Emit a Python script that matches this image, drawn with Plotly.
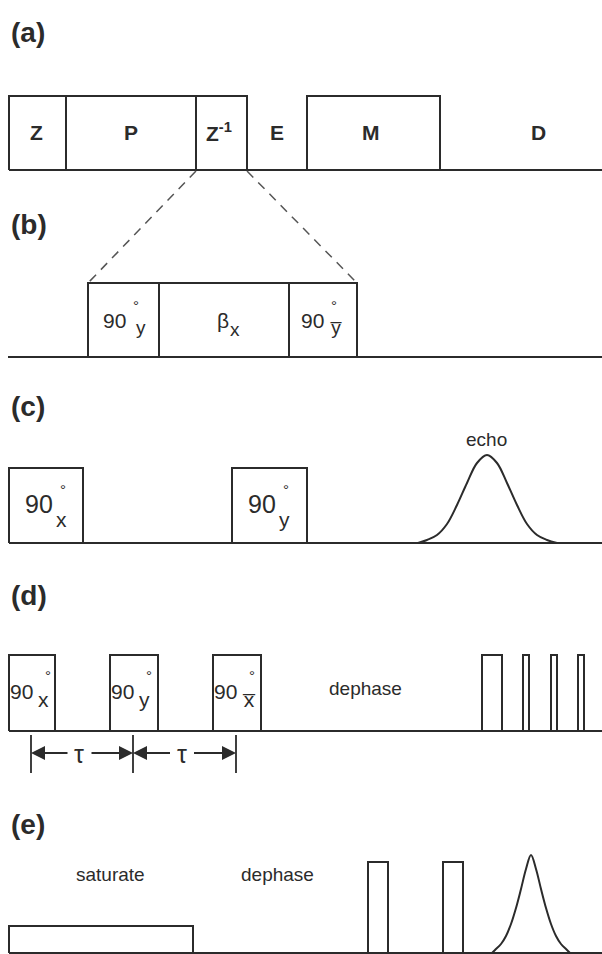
import plotly.graph_objects as go

W, H = 602, 954
INK = "#2b2b2b"
FONT = "Liberation Sans, Arial, Helvetica, sans-serif"

# ---------------- data (diagram geometry) ----------------
panel_labels = ["(a)", "(b)", "(c)", "(d)", "(e)"]
panel_label_y = [32, 224, 406, 595, 824]

# (a) blocks
a_base, a_top = 170, 96
a_block_edges = [9, 66, 196, 247]          # Z | P | Z^-1 contiguous
a_block_names = ["Z", "P", "Z<sup>-1</sup>"]
a_block_text_x = [36, 131, 219]
a_M_block = [307, 440]
a_free_names = ["E", "M", "D"]
a_free_x = [277, 371, 538]
a_text_y = 132

# (b) expansion of Z^-1
b_base, b_top = 357, 283
b_block_edges = [88, 159, 289, 357]

# (c)
c_base, c_top = 543, 468
c_pulses = [[9, 83], [232, 307]]
c_pulse_sub = ["x", "y"]
c_echo_x = [418, 427, 437, 447, 457, 467, 477, 487, 497, 507, 517, 527, 537, 547, 557]
c_echo_y = [543, 540, 535, 524, 505, 483, 463, 455, 463, 483, 505, 524, 535, 540, 543]

# (d)
d_base, d_top = 731, 655
d_pulses = [[9, 55], [110, 158], [213, 261]]
d_pulse_sub = ["x", "y", "x\u0305"]
d_train = [[482, 502], [523, 529], [551, 557], [578, 584]]
d_tau_marks = [31, 133, 236]
d_tau_y = 753

# (e)
e_base = 953
e_sat = [9, 193]
e_sat_top = 926
e_pulses = [[368, 388], [443, 463]]
e_pulse_top = 862
e_echo_x = [492, 495, 501, 506, 511, 516, 521, 526, 531, 536, 541, 546, 551, 556, 561, 567, 570]
e_echo_y = [953, 950, 944, 936, 924, 908, 889, 869, 855, 869, 889, 908, 924, 936, 944, 950, 953]

fig = go.Figure()


def line(xs, ys, width=2, dash=None, shape="linear", color=INK):
    fig.add_trace(go.Scatter(x=xs, y=ys, mode="lines",
                             line=dict(color=color, width=width, dash=dash, shape=shape),
                             hoverinfo="skip", showlegend=False))


def box(x0, x1, base, top):
    line([x0, x0, x1, x1], [base, top, top, base])


def text(x, y, s, size=16, bold=False, xanchor="center", family=FONT, pad=1):
    fig.add_annotation(x=x, y=y, text=("<b>%s</b>" % s) if bold else s, showarrow=False,
                       xanchor=xanchor, yanchor="middle", borderpad=pad,
                       font=dict(family=family, size=size, color=INK))


def ninety(xr, cy, sub, size, subsize, family=FONT, deg_dx=6, deg_dy=-15,
           sub_dx=2, sub_dy=8):
    text(xr, cy, "90", size=size, xanchor="right", family=family, pad=0)
    text(xr + deg_dx, cy + deg_dy, "°", size=15, xanchor="left", family=FONT, pad=0)
    text(xr + sub_dx, cy + sub_dy, sub, size=subsize, xanchor="left", family=family, pad=0)


# panel labels
for lab, ly in zip(panel_labels, panel_label_y):
    text(9, ly, lab, size=28, bold=True, xanchor="left")

# ---- (a)
line([a_block_edges[0], W], [a_base, a_base])
for x0, x1, nm, tx in zip(a_block_edges[:-1], a_block_edges[1:], a_block_names, a_block_text_x):
    box(x0, x1, a_base, a_top)
    text(tx, a_text_y, nm, size=21, bold=True)
box(a_M_block[0], a_M_block[1], a_base, a_top)
for nm, xx in zip(a_free_names, a_free_x):
    text(xx, a_text_y, nm, size=21, bold=True)

# ---- (b)
line([a_block_edges[2], b_block_edges[0]], [a_base + 1, b_top], width=1.5,
     dash="9px,7px", color="#555555")
line([a_block_edges[3], b_block_edges[-1]], [a_base + 1, b_top], width=1.5,
     dash="9px,7px", color="#555555")
line([8, W], [b_base, b_base])
for x0, x1 in zip(b_block_edges[:-1], b_block_edges[1:]):
    box(x0, x1, b_base, b_top)
bmid = (b_base + b_top) / 2
ninety(b_block_edges[0] + 39, bmid, "y", 21, 19, deg_dx=5, deg_dy=-15, sub_dx=8, sub_dy=7)
text(223, bmid, "β", size=21)
text(228, bmid + 9, "x", size=19, xanchor="left")
ninety(b_block_edges[2] + 36, bmid, "y\u0305", 21, 19, deg_dx=5, deg_dy=-15, sub_dx=4, sub_dy=7)

# ---- (c)
line([9, W], [c_base, c_base])
for (x0, x1), s in zip(c_pulses, c_pulse_sub):
    box(x0, x1, c_base, c_top)
    ninety(x0 + 45, 504, s, 25, 21, deg_dx=5, deg_dy=-15, sub_dx=1, sub_dy=15)
line(c_echo_x, c_echo_y, shape="spline")
text(486, 439, "echo", size=19)

# ---- (d)
line([9, W], [d_base, d_base])
for (x0, x1), s in zip(d_pulses, d_pulse_sub):
    box(x0, x1, d_base, d_top)
    ninety(x0 + 25, 691, s, 21, 21, deg_dx=10, deg_dy=-16, sub_dx=3, sub_dy=8)
for x0, x1 in d_train:
    box(x0, x1, d_base, d_top)
text(365, 688, "dephase", size=19)
for xm in d_tau_marks:
    line([xm, xm], [d_base + 4, d_base + 42], width=1.8)
for x0, x1 in zip(d_tau_marks[:-1], d_tau_marks[1:]):
    mid = (x0 + x1) / 2
    text(mid - 3, d_tau_y + 1, "τ", size=25)
    for tip, tail in ((x0, mid - 13), (x1, mid + 8)):
        fig.add_annotation(x=tip, y=d_tau_y, ax=tail, ay=d_tau_y, xref="x", yref="y",
                           axref="x", ayref="y", text="", showarrow=True,
                           arrowhead=2, arrowsize=1.4, arrowwidth=2, arrowcolor=INK)

# ---- (e)
line([9, W], [e_base, e_base])
box(e_sat[0], e_sat[1], e_base, e_sat_top)
for x0, x1 in e_pulses:
    box(x0, x1, e_base, e_pulse_top)
line(e_echo_x, e_echo_y, shape="spline")
text(110, 874, "saturate", size=19)
text(277, 874, "dephase", size=19)

fig.update_layout(
    width=W, height=H, margin=dict(l=0, r=0, t=0, b=0),
    paper_bgcolor="white", plot_bgcolor="white",
    xaxis=dict(range=[0, W], visible=False, fixedrange=True),
    yaxis=dict(range=[H, 0], visible=False, fixedrange=True),
    showlegend=False,
)
fig.write_html("out.html", config={"displayModeBar": False})
